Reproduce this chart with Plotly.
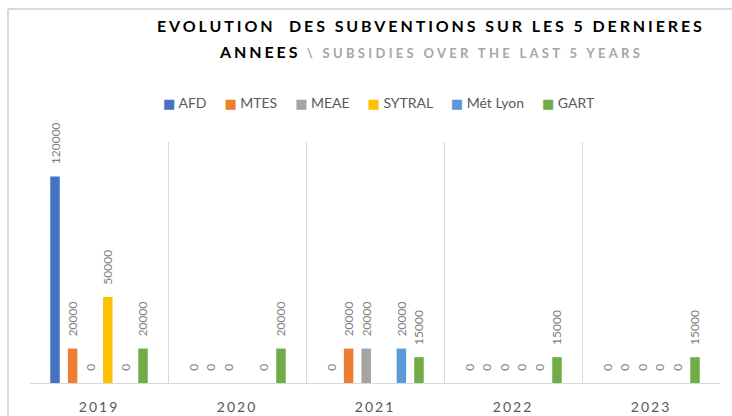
import plotly.graph_objects as go

years = ["2019", "2020", "2021", "2022", "2023"]
series_names = ["AFD", "MTES", "MEAE", "SYTRAL", "Mét Lyon", "GART"]
afd = [120000, 0, 0, 0, 0]
mtes = [20000, 0, 20000, 0, 0]
meae = [0, 0, 20000, 0, 0]
sytral = [50000, None, None, 0, 0]
met_lyon = [0, 0, 20000, 0, 0]
gart = [20000, 20000, 15000, 15000, 15000]
colors = ["#4472C4", "#ED7D31", "#A5A5A5", "#FFC000", "#5B9BD5", "#70AD47"]

values = [afd, mtes, meae, sytral, met_lyon, gart]

W, H = 732, 416
L, R, T, B = 30, 12, 142, 33
pw, ph = W - L - R, H - T - B

def px(x):
    return (x - L) / pw

def py(y):
    return (H - B - y) / ph

fig = go.Figure()
for name, vals, col in zip(series_names, values, colors):
    fig.add_trace(go.Bar(
        x=years, y=vals, name=name,
        marker=dict(color=col, line=dict(width=0)),
        texttemplate="\u00a0\u00a0\u00a0%{y:.0f}",
        textposition="outside", textangle=-90,
        constraintext="none", cliponaxis=False,
        textfont=dict(family="Lato", size=12, color="#7f7f7f"),
        hoverinfo="skip", showlegend=False,
    ))

ticktext = ['<span style="letter-spacing:2px">%s</span>' % y for y in years]

nb = "\u00a0"
legend_text = (nb * 5).join(
    '<span style="color:%s;font-family:DejaVu Sans;font-size:13px">\u25a0</span>%s%s' % (c, nb, n)
    for n, c in zip(series_names, colors)
)

fig.update_layout(
    width=W, height=H,
    margin=dict(l=L, r=R, t=T, b=B, pad=0, autoexpand=False),
    paper_bgcolor="white", plot_bgcolor="white",
    barmode="group", bargap=0.235, bargroupgap=0.46,
    showlegend=False,
    xaxis=dict(type="category", tickvals=years, ticktext=ticktext,
               tickson="boundaries", showgrid=True, gridcolor="#d9d9d9", gridwidth=1,
               showline=True, linecolor="#d9d9d9", linewidth=1, ticks="",
               ticklabelstandoff=11, automargin=False,
               tickfont=dict(family="Lato", size=14, color="#595959"), fixedrange=True),
    yaxis=dict(range=[0, 140000], visible=False, showgrid=False, zeroline=False,
               automargin=False, fixedrange=True),
    annotations=[
        dict(xref="paper", yref="paper", x=px(431), y=py(26), xanchor="center", yanchor="middle",
             showarrow=False,
             text='<span style="letter-spacing:2.9px"><b>EVOLUTION  DES SUBVENTIONS SUR LES 5 DERNIERES</b></span>',
             font=dict(family="Lato", size=16, color="#000000")),
        dict(xref="paper", yref="paper", x=px(431), y=py(51), xanchor="center", yanchor="middle",
             showarrow=False,
             text='<span style="letter-spacing:2.9px"><b>ANNEES</b></span>'
                  '<span style="letter-spacing:3.3px;font-size:13px;color:#a6a6a6"><b> \\ SUBSIDIES OVER THE LAST 5 YEARS</b></span>',
             font=dict(family="Lato", size=16, color="#000000")),
        dict(xref="paper", yref="paper", x=px(379), y=py(102.5), xanchor="center", yanchor="middle",
             showarrow=False, text=legend_text,
             font=dict(family="Lato", size=14, color="#595959")),
    ],
    shapes=[
        dict(type="line", xref="paper", yref="paper", x0=px(8), x1=px(732), y0=py(9), y1=py(9),
             line=dict(color="#d9d9d9", width=2)),
        dict(type="line", xref="paper", yref="paper", x0=px(8), x1=px(8), y0=py(9), y1=py(416),
             line=dict(color="#d9d9d9", width=2)),
    ],
)

fig.write_html("out.html", config={"displayModeBar": False, "staticPlot": True},
               post_script="document.body.style.margin='0';document.body.style.overflow='hidden';")
